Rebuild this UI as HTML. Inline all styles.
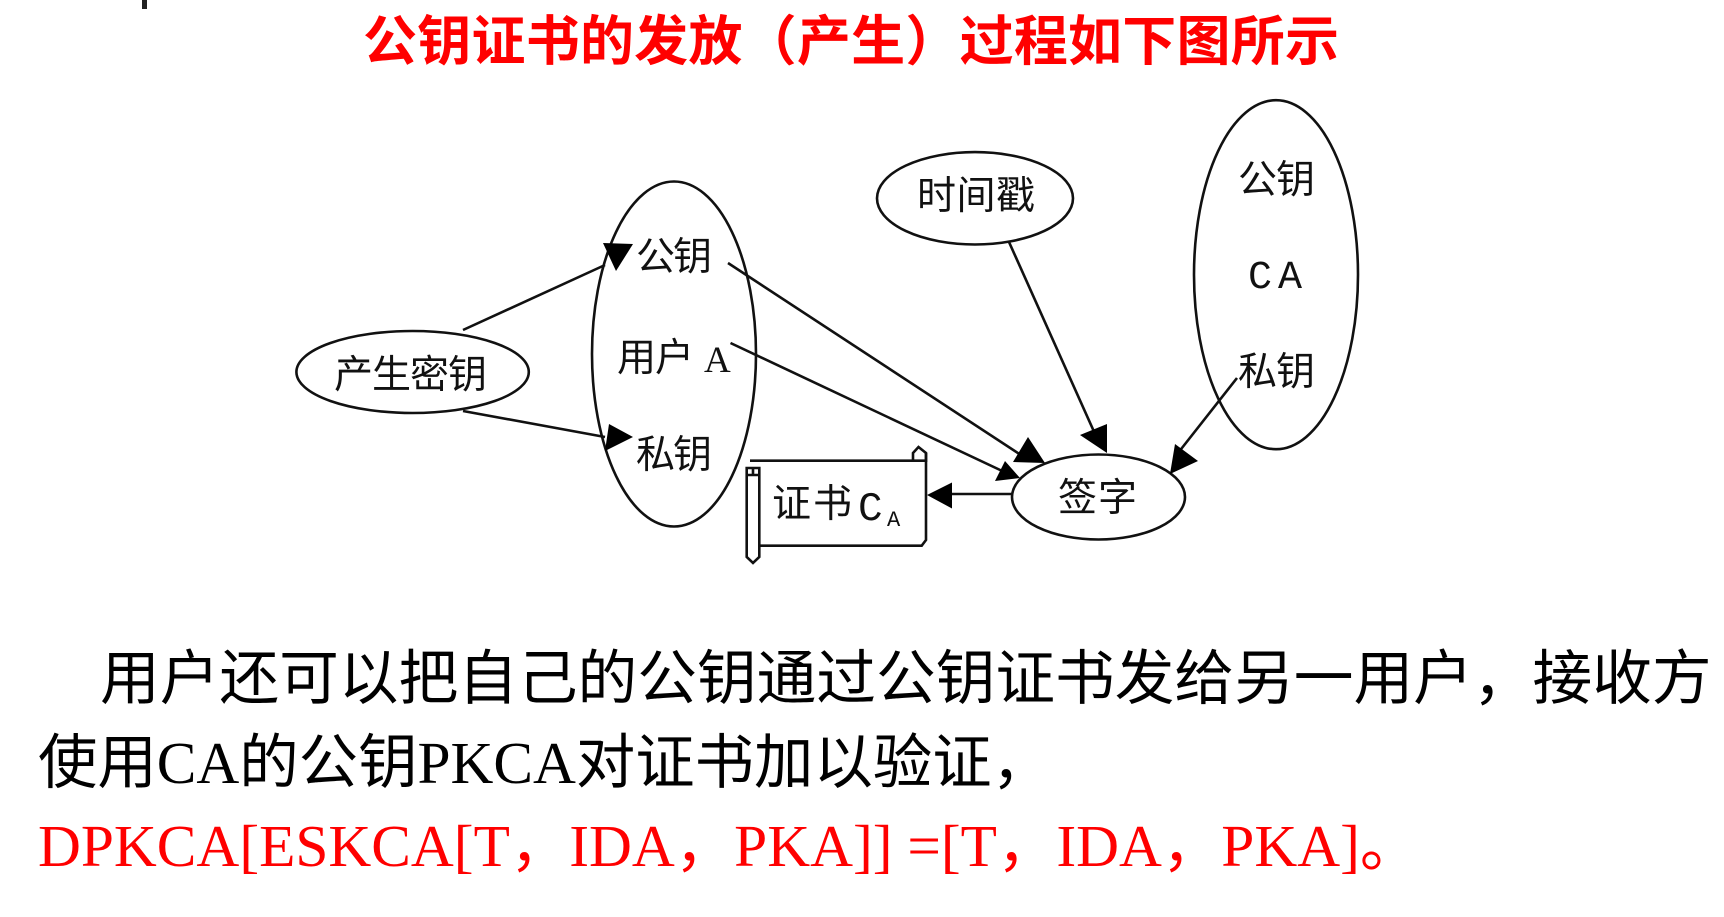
<!DOCTYPE html>
<html lang="zh">
<head>
<meta charset="utf-8">
<title>公钥证书的发放</title>
<style>
html,body{margin:0;padding:0;background:#fff;width:1724px;height:917px;overflow:hidden}
svg{display:block;position:absolute;left:0;top:0}
.t{font-family:"Liberation Serif","WenQuanYi Zen Hei","Noto Sans CJK SC",sans-serif;font-size:59.4px;white-space:pre}
.title{font-family:"Liberation Sans","Noto Sans CJK SC",sans-serif;font-weight:700;font-size:54px;fill:#f00}
.l{font-family:"Liberation Sans","WenQuanYi Zen Hei","Noto Sans CJK SC",sans-serif;font-size:39px;fill:#111}
.s{fill:none;stroke:#111;stroke-width:2.6}
.h{fill:#000;stroke:none}
</style>
</head>
<body>
<svg width="1724" height="917" viewBox="0 0 1724 917" xmlns="http://www.w3.org/2000/svg">
<rect x="142" y="0" width="5" height="9" fill="#222"/>
<text class="title" x="363" y="60" textLength="976" lengthAdjust="spacing">公钥证书的发放（产生）过程如下图所示</text>

<ellipse class="s" cx="412.6" cy="372" rx="116.2" ry="41"/>
<ellipse class="s" cx="674" cy="354" rx="82" ry="172.5"/>
<ellipse class="s" cx="975" cy="198.3" rx="98" ry="46.2"/>
<ellipse class="s" cx="1276" cy="274.7" rx="82" ry="174.5"/>
<ellipse class="s" cx="1098.5" cy="497" rx="86.5" ry="42.5"/>

<line class="s" x1="463" y1="330" x2="605" y2="265"/>
<line class="s" x1="463" y1="411" x2="605" y2="437"/>
<line class="s" x1="728" y1="263" x2="1030" y2="461"/>
<line class="s" x1="730.5" y1="343" x2="1015" y2="477"/>
<line class="s" x1="1009" y1="242" x2="1100" y2="445"/>
<line class="s" x1="1237" y1="378" x2="1178" y2="453"/>
<line class="s" x1="1011" y1="494" x2="940" y2="494"/>

<polygon class="h" points="603,243 633,244 616,271"/>
<polygon class="h" points="609,424 633,437 605,451"/>
<polygon class="h" points="1028,437 1013,462 1045,463"/>
<polygon class="h" points="1005,461 995,481 1020,478"/>
<polygon class="h" points="1107,424 1080,435 1107,453"/>
<polygon class="h" points="1175,444 1198,461 1170,474"/>
<polygon class="h" points="927,495 952,482.5 952,508.5"/>

<path class="s" d="M750 460.7H913M926 453V540L921.7 545.7H760"/>
<path class="s" stroke-width="2" d="M913 460.7V453L918.5 447L926 453V460.7Z"/>
<path class="s" d="M746.7 468H759.3V557L753 563L746.7 557Z"/>
<path class="s" stroke-width="2" d="M746.7 475H759.3M753 468V475"/>

<text class="l" x="636" y="270" textLength="76">公钥</text>
<text class="l" x="617" y="371" textLength="77">用户</text>
<text class="l" x="704" y="372" style="font-family:'Liberation Serif',serif;font-size:37px">A</text>
<text class="l" x="636" y="468" textLength="76">私钥</text>
<text class="l" x="334" y="388" textLength="153">产生密钥</text>
<text class="l" x="917" y="209" textLength="118">时间戳</text>
<text class="l" x="1238" y="193" textLength="77">公钥</text>
<text class="l" x="1248" y="288" style="font-family:'Liberation Mono',monospace;font-size:40px" textLength="54">CA</text>
<text class="l" x="1238" y="385" textLength="77">私钥</text>
<text class="l" x="1058" y="511" textLength="79">签字</text>
<text class="l" x="772" y="517" textLength="80">证书</text>
<text class="l" x="858" y="520" style="font-family:'Liberation Mono',monospace;font-size:41px">C</text>
<text class="l" x="887" y="526" style="font-family:'Liberation Mono',monospace;font-size:22px">A</text>

<text class="t" x="100" y="699" fill="#000" style="font-size:59.7px">用户还可以把自己的公钥通过公钥证书发给另一用户，接收方</text>
<text class="t" x="38" y="783" fill="#000">使用CA的公钥PKCA对证书加以验证，</text>
<text class="t" x="38" y="866" fill="#f00">DPKCA[ESKCA[T，IDA，PKA]] =[T，IDA，PKA]。</text>
</svg>
</body>
</html>
